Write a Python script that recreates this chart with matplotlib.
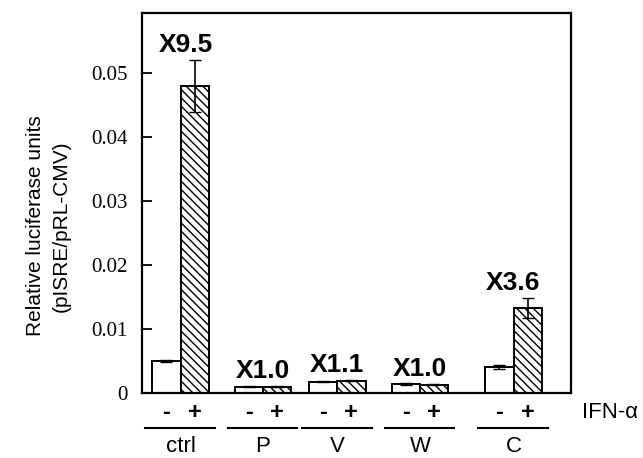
import matplotlib.pyplot as plt
import numpy as np

# Datos
groups = ["ctrl", "P", "V", "W", "C"]
minus_vals = [0.0050, 0.0010, 0.00175, 0.0014, 0.0040]
minus_err = [0.0002, 0.0001, 0.0001, 0.0001, 0.0003]
plus_vals = [0.0480, 0.0010, 0.0019, 0.0013, 0.0133]
plus_err = [0.0040, 0.0001, 0.0001, 0.0001, 0.0015]
fold_labels = ["X9.5", "X1.0", "X1.1", "X1.0", "X3.6"]

# Posiciones de cada grupo (unidades del eje)
centers = np.array([0.90, 2.82, 4.55, 6.48, 8.66])
width = 0.66

fig = plt.figure(figsize=(6.43, 4.58), dpi=100)
ax = fig.add_axes([142 / 643, 1 - 393 / 458, (571 - 142) / 643, (393 - 13) / 458])

ax.bar(centers - width / 2, minus_vals, width, color="white", edgecolor="black",
       linewidth=1.4, yerr=minus_err, error_kw=dict(ecolor="black", capsize=4, elinewidth=1.2))
ax.bar(centers + width / 2, plus_vals, width, color="white", edgecolor="black",
       hatch="\\\\\\\\", linewidth=1.4, yerr=plus_err,
       error_kw=dict(ecolor="black", capsize=4, elinewidth=1.2))

# Etiquetas de cambio (fold)
for c, mv, pv, pe, lab in zip(centers, minus_vals, plus_vals, plus_err, fold_labels):
    top = max(mv, pv + pe)
    x = c + 0.12 if lab == "X9.5" else c
    ax.text(x, top + 0.0013, lab, ha="center", va="baseline", fontsize=19,
            fontweight="bold", family="Liberation Sans")

ax.set_xlim(0, 10)
ax.set_ylim(0, 0.0594)
ax.set_yticks([0, 0.01, 0.02, 0.03, 0.04, 0.05])
ax.set_yticklabels(["0", "0.01", "0.02", "0.03", "0.04", "0.05"],
                   family="Liberation Serif", fontsize=15)
ax.tick_params(axis="y", direction="in", length=7, width=1.3, pad=10)
ax.set_xticks([])
for s in ax.spines.values():
    s.set_linewidth(1.6)

ax.set_ylabel("Relative luciferase units\n(pISRE/pRL-CMV)", family="Liberation Sans",
              fontsize=15, linespacing=1.4)
ax.yaxis.set_label_coords(-0.167, 0.44)

# Signos -/+ y nombres de grupo bajo el eje
y_sign, y_line, y_name = -0.0030, -0.0055, -0.0083
for c, g in zip(centers, groups):
    ax.text(c - width / 2, y_sign, "-", ha="center", va="center", fontsize=17,
            fontweight="bold", family="Liberation Sans", clip_on=False)
    ax.text(c + width / 2, y_sign, "+", ha="center", va="center", fontsize=17,
            fontweight="bold", family="Liberation Sans", clip_on=False)
    ax.plot([c - 0.82, c + 0.8], [y_line, y_line], color="black", lw=1.5, clip_on=False)
    ax.text(c, y_name, g, ha="center", va="center", fontsize=16,
            family="Liberation Sans", clip_on=False)

ax.text(10.9, y_sign, "IFN-α", ha="center", va="center", fontsize=16,
        family="Liberation Sans", clip_on=False)

fig.savefig("out.png", dpi=100)
